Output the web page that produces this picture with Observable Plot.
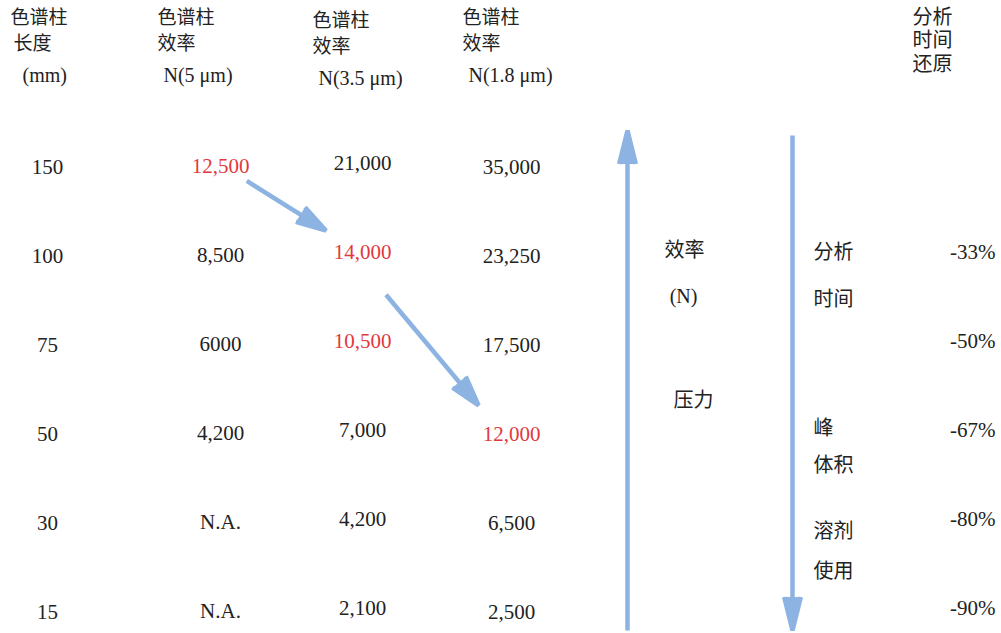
<!DOCTYPE html>
<html><head><meta charset="utf-8">
<script src="https://cdn.jsdelivr.net/npm/d3@7"></script>
<script src="https://cdn.jsdelivr.net/npm/@observablehq/plot@0.6"></script>
<style>html,body{margin:0;padding:0;background:#fff}#chart svg{display:block}</style>
</head><body><div id="chart"></div>
<script>
// ---------------- data ----------------
const lengths = [150, 100, 75, 50, 30, 15];                       // column length (mm)
const eff5um  = ["12,500", "8,500", "6000", "4,200", "N.A.", "N.A."];
const eff35um = ["21,000", "14,000", "10,500", "7,000", "4,200", "2,100"];
const eff18um = ["35,000", "23,250", "17,500", "12,000", "6,500", "2,500"];
const timeReduction = [null, -33, -50, -67, -80, -90];            // % analysis-time reduction
const highlighted = {n5: [150], n35: [100, 75], n18: [50]};
const headerLine1 = {len: "色谱柱", n5: "色谱柱", n35: "色谱柱", n18: "色谱柱"};
const headerLine2 = {len: "长度", n5: "效率", n35: "效率", n18: "效率"};
const headerLine3 = {len: "(mm)", n5: "N(5 μm)", n35: "N(3.5 μm)", n18: "N(1.8 μm)"};
const timeHeader = ["分析", "时间", "还原"];
const trendArrows = [
  {fromCol: "n5", fromLen: 150, toCol: "n35", toLen: 100},
  {fromCol: "n35", fromLen: 100, toCol: "n18", toLen: 50}
];
const upArrow = [{col: "up", fromLen: 15, toLen: 150}];
const downArrow = [{col: "down", fromLen: 150, toLen: 15}];
const upLabels = ["效率", "(N)", "压力"];
const downLabels = ["分析", "时间", "峰", "体积", "溶剂", "使用"];

// ---------------- layout & style ----------------
const W = 1001, H = 633;
const colX = {len: 47, n5: 220, n35: 362, n18: 511, up: 627, down: 792, downText: 813, pct: 995};
const colDy = {len: 0, n5: -1, n35: -4, n18: 0};
const headX = {len: 10, n5: 157, n35: 312, n18: 462, time: 912};
const headTop = [17, 43, 75];
const timeHeadTop = [17, 40, 64];
const upLabelPos = [{x: 684, top: 250}, {x: 683, top: 296}, {x: 693, top: 400}];
const downLabelTop = [252, 299, 428, 465, 531, 571];
const BLUE = "#8DB3E2", RED = "#E2383D", INK = "#222";
const FONT = "'Liberation Serif', 'Noto Sans CJK SC', serif";
const font = {fontFamily: FONT, fontSize: 20, lineAnchor: "middle"};

const rows = lengths.map((len, i) => ({len, n5: eff5um[i], n35: eff35um[i], n18: eff18um[i], red: timeReduction[i]}));
const cols = ["len", "n5", "n35", "n18"];

const marks = [];
// header lines
cols.forEach(c => {
  [headerLine1, headerLine2, headerLine3].forEach((hl, k) => {
    marks.push(Plot.text([hl[c]], {
      x: () => headX[c] + (k === 2 ? (c === "len" ? 12 : 6) : (c === "len" && k === 1 ? 3 : 0)),
      text: d => d, frameAnchor: "top", dy: headTop[k] + (c === "n35" ? 3 : 0),
      textAnchor: "start", fill: INK, ...font, fontSize: k === 2 ? 20 : 19
    }));
  });
});
timeHeader.forEach((t, k) => marks.push(Plot.text([t], {
  x: () => headX.time, text: d => d, frameAnchor: "top", dy: timeHeadTop[k],
  textAnchor: "start", fill: INK, ...font
})));
// table cells
cols.forEach(c => {
  marks.push(Plot.text(rows, {
    x: () => colX[c], y: "len", dy: colDy[c],
    text: d => String(d[c]),
    fill: d => (highlighted[c] || []).includes(d.len) ? RED : INK,
    ...font, fontSize: 21
  }));
});
// reduction percentages
marks.push(Plot.text(rows.filter(d => d.red != null), {
  x: () => colX.pct, y: "len", dy: -4, text: d => `${d.red}%`,
  textAnchor: "end", fill: INK, ...font, fontSize: 21
}));
// vertical arrows
const arrowStyle = {stroke: BLUE, fill: BLUE, strokeWidth: 4.5, headAngle: 28, headLength: 11.5, strokeLinecap: "butt"};
marks.push(Plot.arrow(upArrow, {
  x1: d => colX[d.col], x2: d => colX[d.col], y1: "fromLen", y2: "toLen",
  insetStart: -18, insetEnd: -37, ...arrowStyle
}));
marks.push(Plot.arrow(downArrow, {
  x1: d => colX[d.col], x2: d => colX[d.col], y1: "fromLen", y2: "toLen",
  insetStart: -32, insetEnd: -18, ...arrowStyle
}));
// diagonal trend arrows
marks.push(Plot.arrow([trendArrows[0]], {
  x1: d => colX[d.fromCol], y1: "fromLen", x2: d => colX[d.toCol], y2: "toLen",
  insetStart: 31, insetEnd: 43, dx: 0, dy: -3, ...arrowStyle, headAngle: 32, headLength: 10.5
}));
marks.push(Plot.arrow([trendArrows[1]], {
  x1: d => colX[d.fromCol], y1: "fromLen", x2: d => colX[d.toCol], y2: "toLen",
  insetStart: 46, insetEnd: 42, dx: -6, dy: 3, ...arrowStyle, headAngle: 32, headLength: 10.5
}));
// arrow labels
upLabels.forEach((t, i) => marks.push(Plot.text([t], {
  x: () => upLabelPos[i].x, text: d => d, frameAnchor: "top", dy: upLabelPos[i].top,
  fill: INK, ...font
})));
downLabels.forEach((t, i) => marks.push(Plot.text([t], {
  x: () => colX.downText, text: d => d, frameAnchor: "top", dy: downLabelTop[i],
  textAnchor: "start", fill: INK, ...font
})));

const chart = Plot.plot({
  width: W, height: H, margin: 0, axis: null,
  x: {domain: [0, W], range: [0, W]},
  y: {type: "point", domain: lengths, range: [165, 613], padding: 0},
  color: {type: "identity"},
  style: {background: "#fff", overflow: "visible"},
  marks
});
document.getElementById("chart").append(chart);
</script>
</body></html>
